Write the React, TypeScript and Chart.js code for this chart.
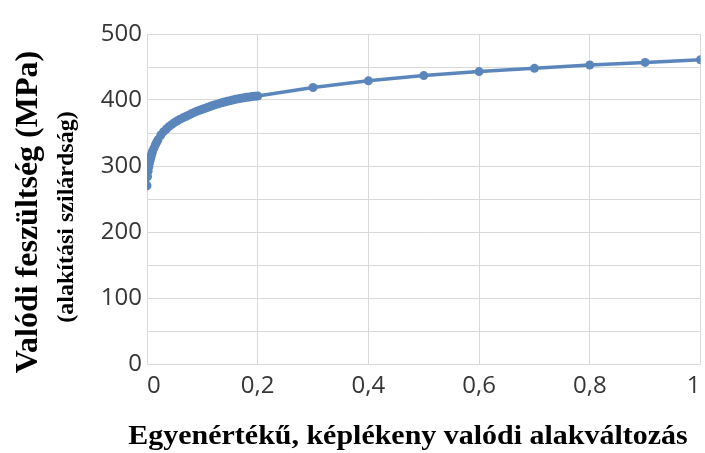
import React, { useEffect, useRef } from "react";
import { Chart, registerables } from "chart.js";

Chart.register(...registerables);

// Equivalent plastic true strain (x) and true stress in MPa (y)
const strain: number[] = [
  0, 0.001, 0.002, 0.003, 0.004, 0.005, 0.006, 0.007, 0.008, 0.009, 0.01,
  0.0125, 0.015, 0.0175, 0.02, 0.025, 0.03, 0.035, 0.04, 0.045, 0.05, 0.055,
  0.06, 0.065, 0.07, 0.075, 0.08, 0.085, 0.09, 0.095, 0.1, 0.105, 0.11, 0.115,
  0.12, 0.125, 0.13, 0.135, 0.14, 0.145, 0.15, 0.155, 0.16, 0.165, 0.17, 0.175,
  0.18, 0.185, 0.19, 0.195, 0.2, 0.3, 0.4, 0.5, 0.6, 0.7, 0.8, 0.9, 1.0,
];
const stress: number[] = [
  270, 284, 292, 298, 303, 307, 310, 313.5, 316.5, 319, 322,
  327, 332, 336, 340, 347, 352, 356, 360, 363, 366, 368.5,
  371, 373, 375, 377, 379, 381, 383, 384.5, 386, 387.5, 389, 390.5,
  392, 393.3, 394.5, 395.8, 397, 398, 399, 400, 401, 401.8, 402.5, 403.3,
  404, 404.6, 405.2, 405.6, 406, 419, 429, 437, 443, 448, 453, 457, 461,
];

const xTitle = "Egyenértékű, képlékeny valódi alakváltozás";
const yTitle = "Valódi feszültség (MPa)";
const ySubtitle = "(alakítási szilárdság)";

const LINE_COLOR = "#5b86bc";
const GRID_COLOR = "#d9d9d9";
const TICK_COLOR = "#363636";

const titlesPlugin = {
  id: "axisTitles",
  afterDraw(chart: Chart) {
    const ctx = chart.ctx;
    ctx.save();
    ctx.fillStyle = "#000";
    ctx.textAlign = "center";
    ctx.textBaseline = "middle";

    // vertical title, two lines
    ctx.save();
    ctx.translate(29, 212);
    ctx.rotate(-Math.PI / 2);
    ctx.font = "bold 32px 'Liberation Serif', 'Times New Roman', serif";
    ctx.fillText(yTitle, 0, 0);
    ctx.restore();

    ctx.save();
    ctx.translate(67, 217);
    ctx.rotate(-Math.PI / 2);
    ctx.font = "bold 24px 'Liberation Serif', 'Times New Roman', serif";
    ctx.fillText(ySubtitle, 0, 0);
    ctx.restore();

    // horizontal title
    ctx.save();
    ctx.translate(408, 444);
    ctx.scale(1.07, 1);
    ctx.textBaseline = "alphabetic";
    ctx.font = "bold 28px 'Liberation Serif', 'Times New Roman', serif";
    ctx.fillText(xTitle, 0, 0);
    ctx.restore();

    ctx.restore();
  },
};

export default function App() {
  const canvasRef = useRef<HTMLCanvasElement | null>(null);

  useEffect(() => {
    const canvas = canvasRef.current;
    if (!canvas) return;
    const points = strain.map((x, i) => ({ x, y: stress[i] }));
    const tickFont = { family: "'Open Sans', sans-serif", size: 24 };

    const chart = new Chart(canvas, {
      type: "scatter",
      data: {
        datasets: [
          {
            data: points,
            showLine: true,
            borderColor: LINE_COLOR,
            backgroundColor: LINE_COLOR,
            borderWidth: 3.5,
            pointRadius: 4.5,
            pointBorderWidth: 0,
            pointBackgroundColor: LINE_COLOR,
          },
        ],
      },
      options: {
        animation: false,
        responsive: false,
        devicePixelRatio: 1,
        layout: { padding: { top: 34, right: 2, bottom: 49, left: 0 } },
        plugins: { legend: { display: false }, tooltip: { enabled: false } },
        scales: {
          x: {
            type: "linear",
            min: 0,
            max: 1,
            afterFit: (s: any) => {
              s.height = 40;
              s.paddingLeft = 0;
              s.paddingRight = 0;
            },
            grid: { color: GRID_COLOR, drawTicks: false, lineWidth: 1 },
            border: { color: GRID_COLOR },
            ticks: {
              stepSize: 0.2,
              align: "inner",
              padding: 8,
              color: TICK_COLOR,
              font: tickFont,
              callback: (v: any) => String(Number(Number(v).toFixed(1))).replace(".", ","),
            },
          },
          y: {
            min: 0,
            max: 500,
            afterFit: (s: any) => {
              s.width = 147;
            },
            grid: { color: GRID_COLOR, drawTicks: false, lineWidth: 1 },
            border: { color: GRID_COLOR },
            ticks: {
              stepSize: 50,
              autoSkip: false,
              padding: 5,
              color: TICK_COLOR,
              font: tickFont,
              callback: (v: any) => (Number(v) % 100 === 0 ? String(v) : ""),
            },
          },
        },
      },
      plugins: [titlesPlugin],
    });

    return () => chart.destroy();
  }, []);

  return (
    <div
      style={{
        position: "fixed",
        left: 0,
        top: 0,
        width: 705,
        height: 453,
        overflow: "hidden",
        background: "#fff",
      }}
    >
      <canvas ref={canvasRef} width={705} height={453} style={{ width: 705, height: 453, display: "block" }} />
    </div>
  );
}
